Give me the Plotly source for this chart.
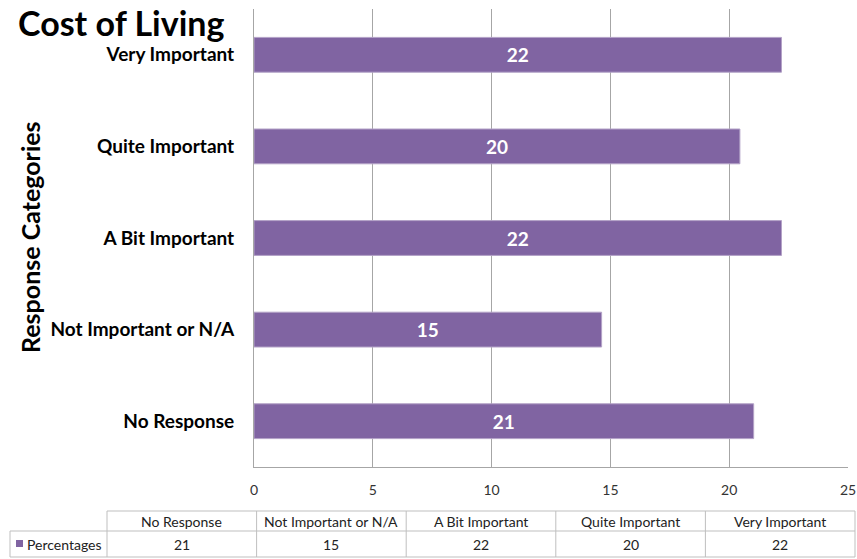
import plotly.graph_objects as go

# data
categories = ["No Response", "Not Important or N/A", "A Bit Important",
              "Quite Important", "Very Important"]
percentages = [21.03, 14.63, 22.2, 20.45, 22.2]
series_name = "Percentages"
x_ticks = [0, 5, 10, 15, 20, 25]

W, H = 857, 559
L, R, T, B = 254, 9, 9, 92
PW, PH = W - L - R, H - T - B
FONT = "Lato"
PURPLE = "#8064A2"


def px(x):
    return (x - L) / PW


def py(y):
    return (H - B - y) / PH


fig = go.Figure()
fig.add_trace(go.Bar(
    y=categories, x=percentages, orientation="h",
    marker=dict(color=PURPLE, line=dict(color="#B3A2C7", width=1)),
    texttemplate="%{x:.0f}", textposition="inside", insidetextanchor="middle",
    textfont=dict(family=FONT, size=19, color="white", weight="bold"),
    width=0.38, showlegend=False, hoverinfo="skip",
))

fig.update_layout(
    width=W, height=H, margin=dict(l=L, r=R, t=T, b=B, autoexpand=False),
    plot_bgcolor="white", paper_bgcolor="white",
    font=dict(family=FONT, color="#222"),
    xaxis=dict(range=[0, 25], tickvals=x_ticks, showgrid=True,
               gridcolor="#A6A6A6", gridwidth=1, zeroline=False,
               showline=True, linecolor="#A6A6A6",
               tickfont=dict(size=14, color="#333"),
               ticklabelstandoff=10, automargin=False, fixedrange=True),
    yaxis=dict(showgrid=False, showline=True, linecolor="#A6A6A6",
               tickfont=dict(size=19, color="black", weight="bold"),
               ticklabelstandoff=15, range=[-0.5, 4.5], automargin=False),
)

shapes = []
anns = []


def note(text, x, y, font, **kw):
    d = dict(text=text, x=px(x), y=py(y), xref="paper", yref="paper",
             xanchor="center", yanchor="middle", showarrow=False, font=font)
    d.update(kw)
    anns.append(d)


# title and y-axis title
note("Cost of Living", 16, 23,
     dict(family=FONT, size=34, color="black", weight="bold"), xanchor="left")
note("Response Categories", 30, 237,
     dict(family=FONT, size=25, color="black", weight="bold"), textangle=-90)

# data table under the chart
tbl_left, tbl_right = 107, 855
row_top, row_mid, row_bot = 511, 531, 557
col_w = (tbl_right - tbl_left) / len(categories)
line = dict(color="#BFBFBF", width=1)


def hline(x0, x1, y):
    shapes.append(dict(type="line", xref="paper", yref="paper",
                       x0=px(x0), x1=px(x1), y0=py(y), y1=py(y), line=line))


def vline(x, y0, y1):
    shapes.append(dict(type="line", xref="paper", yref="paper",
                       x0=px(x), x1=px(x), y0=py(y0), y1=py(y1), line=line))


hline(tbl_left, tbl_right, row_top)
hline(10, tbl_right, row_mid)
hline(10, tbl_right, row_bot)
vline(10, row_mid, row_bot)
for i in range(len(categories) + 1):
    vline(tbl_left + i * col_w, row_top, row_bot)

tfont = dict(family=FONT, size=14, color="#222")
for i, (c, v) in enumerate(zip(categories, percentages)):
    cx = tbl_left + (i + 0.5) * col_w
    note(c, cx, (row_top + row_mid) / 2, tfont)
    note(f"{v:.0f}", cx, (row_mid + row_bot) / 2, tfont)

# legend key in the table
shapes.append(dict(type="rect", xref="paper", yref="paper",
                   x0=px(16), x1=px(23), y0=py(547), y1=py(540),
                   fillcolor=PURPLE, line=dict(width=0)))
note(series_name, 25, (row_mid + row_bot) / 2, tfont, xanchor="left")

fig.update_layout(shapes=shapes, annotations=anns)
fig.write_html("out.html", config={"displayModeBar": False},
               post_script="document.body.style.margin='0';"
                           "document.body.style.overflow='hidden';")
